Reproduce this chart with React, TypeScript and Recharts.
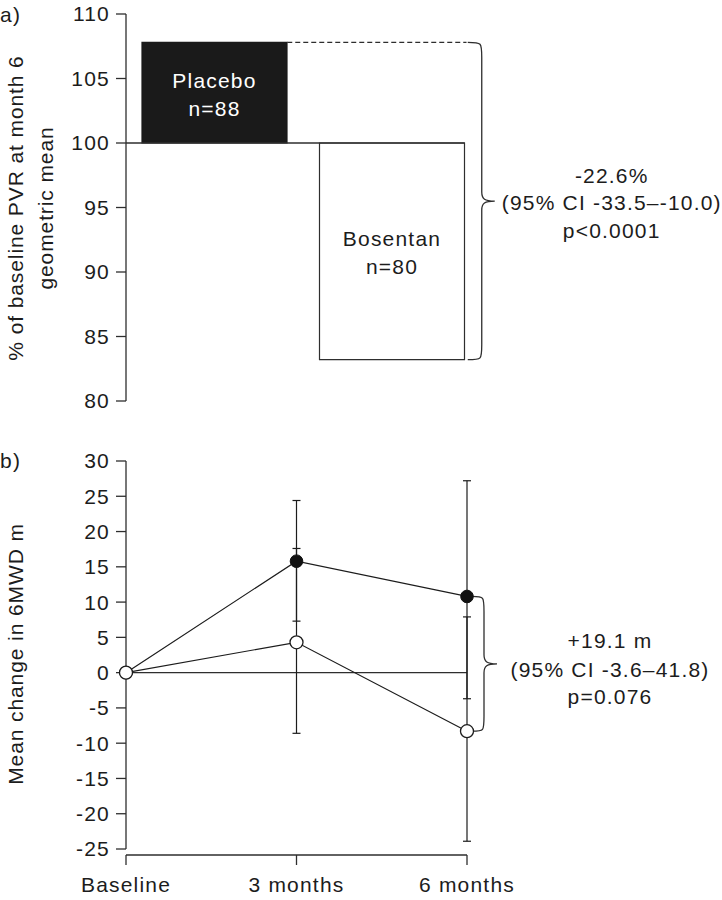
import React from 'react';
import {
  ComposedChart,
  Bar,
  Cell,
  Line,
  ErrorBar,
  XAxis,
  YAxis,
  ReferenceLine,
  LabelList,
} from 'recharts';

// a) PVR at month 6, % of baseline (geometric mean)
const groups = ['Placebo', 'Bosentan'];
const groupN = ['n=88', 'n=80'];
const pvrPercent = [107.8, 83.2];
const pvrBaseline = 100;
const pvrTicks = [80, 85, 90, 95, 100, 105, 110];
const pvrNote = ['-22.6%', '(95% CI -33.5\u2013-10.0)', 'p<0.0001'];

// b) mean change in 6MWD (m)
const visits = ['Baseline', '3 months', '6 months'];
const visitMonth = [0, 3, 6];
const bosentanMean = [0, 15.8, 10.8];
const bosentanLow = [0, 7.3, -3.7];
const bosentanHigh = [0, 17.6, 7.9];
const placeboMean = [0, 4.3, -8.3];
const placeboLow = [0, -8.6, -23.9];
const placeboHigh = [0, 24.4, 27.2];
const walkTicks = [-25, -20, -15, -10, -5, 0, 5, 10, 15, 20, 25, 30];
const walkNote = ['+19.1 m', '(95% CI -3.6\u201341.8)', 'p=0.076'];

const INK = '#1c1c1c';
const LINE = '#2e2e2e';
const FONT = '"Liberation Sans", Arial, Helvetica, sans-serif';
const FS = 21;
const tickStyle = { fontSize: FS, fill: INK };

// slot = middle of each category band, used by the helper numeric axis
const pvrData = groups.map((g, i) => ({
  name: g,
  slot: i + 0.5,
  pvr: [Math.min(pvrBaseline, pvrPercent[i]), Math.max(pvrBaseline, pvrPercent[i])],
}));

const walkData = visitMonth.map((m, i) => ({
  month: m,
  bosentan: bosentanMean[i],
  bosentanErr: [bosentanMean[i] - bosentanLow[i], bosentanHigh[i] - bosentanMean[i]],
  placebo: placeboMean[i],
  placeboErr: [placeboMean[i] - placeboLow[i], placeboHigh[i] - placeboMean[i]],
}));

// bar half-width as a fraction of one category band (145px bar in 177.5px band)
const BAR_SIZE = 145;
const BAR_HALF = 72.5 / 177.5;
const placeboRight = 0.5 + BAR_HALF;
const bosentanRight = 1.5 + BAR_HALF;

function bracePath(x0: number, xs: number, xt: number, yTop: number, yBot: number) {
  const ym = (yTop + yBot) / 2;
  const r = 15;
  const k = 9;
  return (
    `M${x0},${yTop} C${xs},${yTop} ${xs},${yTop} ${xs},${yTop + r} ` +
    `L${xs},${ym - k} C${xs},${ym - 2} ${xs + 3},${ym} ${xt},${ym} ` +
    `C${xs + 3},${ym} ${xs},${ym + 2} ${xs},${ym + k} ` +
    `L${xs},${yBot - r} C${xs},${yBot} ${xs},${yBot} ${x0},${yBot}`
  );
}

function makeBrace(lines: string[], endDx: number, textDx: number, dys: number[]) {
  return (props: any) => {
    const { x1, y1, y2 } = props;
    const top = Math.min(y1, y2);
    const bot = Math.max(y1, y2);
    const ym = (top + bot) / 2;
    const x0 = x1 + endDx;
    return (
      <g>
        <path d={bracePath(x0, x1 + 17, x1 + 30, top, bot)} fill="none" stroke={LINE} strokeWidth={1.3} />
        <text textAnchor="middle" fontSize={FS} fill={INK}>
          {lines.map((t, i) => (
            <tspan key={i} x={x1 + textDx} y={ym + dys[i]}>
              {t}
            </tspan>
          ))}
        </text>
      </g>
    );
  };
}

function BarText(props: any) {
  const { x, y, width, height, value } = props;
  const i = groups.indexOf(value);
  const cx = x + width / 2;
  const cy = y + height / 2;
  return (
    <text textAnchor="middle" fontSize={FS} fill={i === 0 ? '#fff' : INK}>
      <tspan x={cx} y={cy - 5}>{groups[i]}</tspan>
      <tspan x={cx} y={cy + 23}>{groupN[i]}</tspan>
    </text>
  );
}

function PvrChart() {
  return (
    <ComposedChart width={722} height={420} data={pvrData} margin={{ top: 14, right: 241, bottom: 19, left: 0 }}>
      <XAxis xAxisId="cat" dataKey="name" hide />
      <XAxis xAxisId="num" dataKey="slot" type="number" domain={[0, 2]} hide allowDataOverflow />
      <YAxis
        domain={[80, 110]}
        ticks={pvrTicks}
        width={126}
        tickSize={10}
        tickMargin={6}
        tick={tickStyle}
        axisLine={{ stroke: LINE, strokeWidth: 1.3 }}
        tickLine={{ stroke: LINE, strokeWidth: 1.3 }}
        allowDataOverflow
      />
      <Bar xAxisId="cat" dataKey="pvr" barSize={BAR_SIZE} isAnimationActive={false} stroke={LINE} strokeWidth={1.2}>
        {pvrData.map((d, i) => (
          <Cell key={d.name} fill={i === 0 ? '#1a1a1a' : '#fff'} stroke={i === 0 ? '#1a1a1a' : LINE} />
        ))}
        <LabelList dataKey="name" content={BarText} />
      </Bar>
      <ReferenceLine
        xAxisId="num"
        segment={[{ x: 0, y: pvrBaseline }, { x: bosentanRight, y: pvrBaseline }]}
        stroke={LINE}
        strokeWidth={1.3}
        ifOverflow="visible"
      />
      <ReferenceLine
        xAxisId="num"
        segment={[{ x: placeboRight, y: pvrPercent[0] }, { x: bosentanRight + 0.01, y: pvrPercent[0] }]}
        stroke={LINE}
        strokeWidth={1.2}
        strokeDasharray="5 3"
        ifOverflow="visible"
      />
      <ReferenceLine
        xAxisId="num"
        segment={[{ x: bosentanRight, y: pvrPercent[0] }, { x: bosentanRight, y: pvrPercent[1] }]}
        shape={makeBrace(pvrNote, 3, 147, [-18.5, 9, 36.5])}
        ifOverflow="visible"
      />
    </ComposedChart>
  );
}

function WalkChart() {
  return (
    <ComposedChart width={722} height={480} data={walkData} margin={{ top: 41, right: 255, bottom: 5, left: 0 }}>
      <XAxis
        dataKey="month"
        type="number"
        domain={[0, 6]}
        ticks={visitMonth}
        tickFormatter={(v: number) => visits[visitMonth.indexOf(v)]}
        height={40}
        tickSize={10}
        tickMargin={12}
        tick={tickStyle}
        axisLine={{ stroke: LINE, strokeWidth: 1.3 }}
        tickLine={{ stroke: LINE, strokeWidth: 1.3 }}
      />
      <YAxis
        domain={[-25.85, 30]}
        ticks={walkTicks}
        width={126}
        tickSize={10}
        tickMargin={6}
        tick={tickStyle}
        axisLine={false}
        tickLine={{ stroke: LINE, strokeWidth: 1.3 }}
      />
      <ReferenceLine segment={[{ x: 0, y: -25 }, { x: 0, y: 30 }]} stroke={LINE} strokeWidth={1.3} />
      <ReferenceLine y={0} stroke={LINE} strokeWidth={1.2} />
      <Line
        dataKey="bosentan"
        type="linear"
        stroke={INK}
        strokeWidth={1.2}
        dot={{ r: 6.3, fill: '#111', stroke: '#111', strokeWidth: 1 }}
        activeDot={false}
        isAnimationActive={false}
      >
        <ErrorBar dataKey="bosentanErr" direction="y" width={4} stroke={INK} strokeWidth={1.2} isAnimationActive={false} />
      </Line>
      <Line
        dataKey="placebo"
        type="linear"
        stroke={INK}
        strokeWidth={1.2}
        dot={{ r: 6.5, fill: '#fff', stroke: INK, strokeWidth: 1.3 }}
        activeDot={false}
        isAnimationActive={false}
      >
        <ErrorBar dataKey="placeboErr" direction="y" width={4} stroke={INK} strokeWidth={1.2} isAnimationActive={false} />
      </Line>
      <ReferenceLine
        segment={[{ x: 6, y: bosentanMean[2] }, { x: 6, y: placeboMean[2] }]}
        shape={makeBrace(walkNote, 5, 143, [-16, 13, 40])}
      />
    </ComposedChart>
  );
}

export default function App() {
  return (
    <div
      style={{
        position: 'absolute',
        left: 0,
        top: 0,
        width: 722,
        height: 900,
        background: '#fff',
        fontFamily: FONT,
        letterSpacing: '1.2px',
        color: INK,
      }}
    >
      <div style={{ position: 'absolute', left: 0, top: 0 }}>
        <PvrChart />
      </div>
      <div style={{ position: 'absolute', left: 0, top: 420 }}>
        <WalkChart />
      </div>
      <svg width={722} height={900} style={{ position: 'absolute', left: 0, top: 0, pointerEvents: 'none' }}>
        <text x={0} y={22} fontSize={FS} fill={INK}>a)</text>
        <text x={0} y={468} fontSize={FS} fill={INK}>b)</text>
        <text transform="translate(23,208) rotate(-90)" textAnchor="middle" fontSize={FS} fill={INK} letterSpacing="0.9px">
          % of baseline PVR at month 6
        </text>
        <text transform="translate(53,208) rotate(-90)" textAnchor="middle" fontSize={FS} fill={INK} letterSpacing="0.9px">
          geometric mean
        </text>
        <text transform="translate(23,654) rotate(-90)" textAnchor="middle" fontSize={FS} fill={INK} letterSpacing="0.9px">
          Mean change in 6MWD m
        </text>
      </svg>
    </div>
  );
}
